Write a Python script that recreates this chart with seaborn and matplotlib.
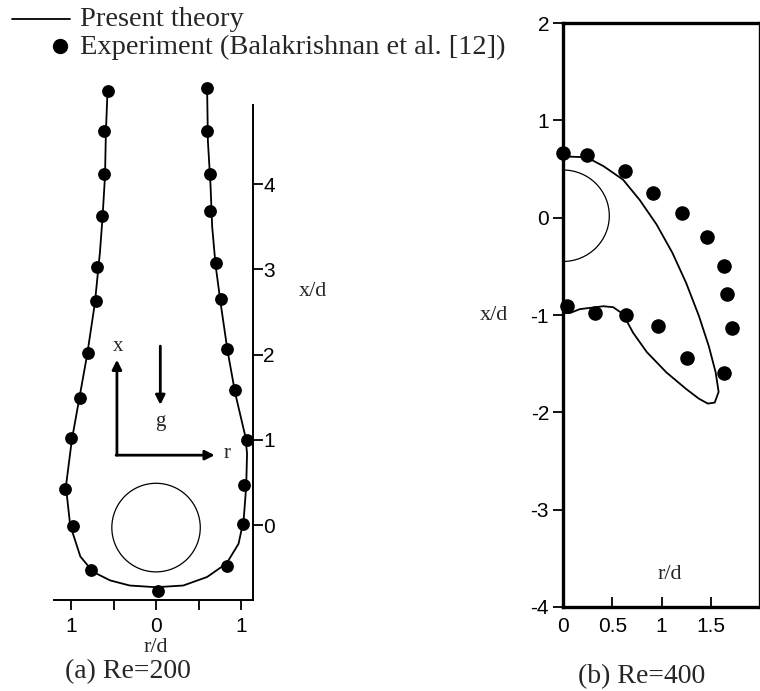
import numpy as np
import matplotlib
matplotlib.use("Agg")
import matplotlib.pyplot as plt
from matplotlib.lines import Line2D
from matplotlib.patches import Circle, Arc
import seaborn as sns

# ---------- data ----------

# (a) Re=200 : theory outline, top-left -> bottom -> top-right
a_theory_r = [-0.57, -0.59, -0.60, -0.63, -0.66, -0.68, -0.72, -0.81, -0.90, -0.99,
              -1.06, -1.01, -0.89, -0.74, -0.54, -0.31, 0.00, 0.32, 0.60, 0.83,
              0.97, 1.03, 1.06, 1.07, 1.05, 0.93, 0.84, 0.76, 0.70, 0.66,
              0.64, 0.61, 0.60]
a_theory_x = [5.12, 4.60, 4.10, 3.60, 3.20, 3.00, 2.60, 2.00, 1.50, 1.00,
              0.45, 0.00, -0.37, -0.55, -0.65, -0.71, -0.73, -0.71, -0.61, -0.45,
              -0.22, 0.06, 0.45, 0.84, 1.04, 1.55, 2.05, 2.60, 3.05, 3.50,
              4.00, 4.50, 5.15]

# (a) experiment
a_exp_r = [-0.57, -0.61, -0.61, -0.63, -0.69, -0.71, -0.80, -0.90, -1.00, -1.07,
           -0.98, -0.76, 0.02, 0.83, 1.02, 1.04, 1.07, 0.93, 0.84, 0.76,
           0.70, 0.64, 0.64, 0.60, 0.60]
a_exp_x = [5.09, 4.62, 4.12, 3.63, 3.03, 2.63, 2.02, 1.49, 1.02, 0.42,
           -0.01, -0.53, -0.77, -0.48, 0.01, 0.47, 1.00, 1.59, 2.07, 2.65,
           3.07, 3.69, 4.12, 4.63, 5.13]

# (b) Re=400 : theory outline, upper edge -> tip -> lower edge
b_theory_r = [0.00, 0.24, 0.41, 0.61, 0.78, 0.95, 1.11, 1.25, 1.38, 1.48,
              1.55, 1.58, 1.54, 1.47, 1.38, 1.25, 1.05, 0.85, 0.71, 0.61,
              0.51, 0.41, 0.17, 0.07, 0.00]
b_theory_x = [0.63, 0.62, 0.53, 0.39, 0.18, -0.07, -0.36, -0.67, -1.01, -1.32,
              -1.59, -1.79, -1.90, -1.91, -1.86, -1.76, -1.59, -1.38, -1.18, -0.99,
              -0.92, -0.91, -0.94, -0.98, -0.98]

# (b) experiment
b_exp_r = [0.00, 0.24, 0.63, 0.91, 1.21, 1.46, 1.63, 1.67, 1.72,
           0.04, 0.32, 0.64, 0.96, 1.26, 1.63]
b_exp_x = [0.66, 0.64, 0.48, 0.25, 0.05, -0.20, -0.50, -0.78, -1.13,
           -0.91, -0.98, -1.00, -1.11, -1.44, -1.60]

# sphere (centre x, radius) per panel
a_sphere = (-0.03, 0.52)
b_sphere = (0.02, 0.47)

a_xticks = [-1, -0.5, 0, 0.5, 1]
a_xticklabels = ["1", "", "0", "", "1"]
a_yticks = [0, 1, 2, 3, 4]
b_xticks = [0, 0.5, 1, 1.5]
b_xticklabels = ["0", "0.5", "1", "1.5"]
b_yticks = [-4, -3, -2, -1, 0, 1, 2]

# ---------- style ----------
sns.set_theme(style="ticks")
plt.rcParams["font.family"] = ["Liberation Serif", "DejaVu Serif"]
plt.rcParams["axes.unicode_minus"] = False

SERIF = "Liberation Serif"
SANS = "Liberation Sans"

W, H = 760, 691
fig = plt.figure(figsize=(W / 100, H / 100), dpi=100)
fig.patch.set_facecolor("white")


def px_axes(x0, y0, x1, y1):
    return fig.add_axes([x0 / W, 1 - y1 / H, (x1 - x0) / W, (y1 - y0) / H])


# ---------- (a) Re=200 ----------
ax1 = px_axes(54, 82, 253, 600)
ax1.set_facecolor("none")
sns.lineplot(x=a_theory_r, y=a_theory_x, sort=False, estimator=None,
             color="black", lw=1.3, ax=ax1)
sns.scatterplot(x=a_exp_r, y=a_exp_x, color="black", s=85, edgecolor="black",
                linewidth=0, ax=ax1, clip_on=False, zorder=5)
ax1.add_patch(Circle((0, a_sphere[0]), a_sphere[1], fill=False, lw=0.9, color="black"))

ax1.set_xlim(-1.2, 1.14)
ax1.set_ylim(-0.88, 5.2)
for s in ["top", "left"]:
    ax1.spines[s].set_visible(False)
ax1.spines["right"].set_bounds(-0.88, 4.93)
for s in ["right", "bottom"]:
    ax1.spines[s].set_linewidth(1.4)
    ax1.spines[s].set_color("black")
ax1.yaxis.tick_right()
ax1.set_xticks(a_xticks)
ax1.set_xticklabels(a_xticklabels)
ax1.set_yticks(a_yticks)
ax1.set_yticklabels([str(v) for v in a_yticks])
ax1.tick_params(axis="x", direction="out", length=7, width=1.3, pad=5,
                labelsize=15, colors="black")
ax1.tick_params(axis="y", direction="out", length=7, width=1.3, pad=0.5,
                labelsize=15, colors="black")
for lab in ax1.get_xticklabels() + ax1.get_yticklabels():
    lab.set_fontfamily(SANS)
ax1.set_xlabel("")
ax1.set_ylabel("")
ax1.text(1.85, 2.74, "x/d", fontsize=16, family=SERIF, va="center", ha="center")
ax1.text(0.0, -1.44, "r/d", fontsize=16, family=SERIF, va="center", ha="center")

# coordinate sketch: x, r and gravity arrows
arrow = dict(arrowstyle="-|>", lw=2.0, color="black", mutation_scale=14,
             shrinkA=0, shrinkB=0)
ax1.annotate("", xy=(-0.46, 1.94), xytext=(-0.46, 0.82), arrowprops=arrow)
ax1.annotate("", xy=(0.69, 0.82), xytext=(-0.47, 0.82), arrowprops=arrow)
ax1.annotate("", xy=(0.05, 1.41), xytext=(0.05, 2.10), arrowprops=arrow)
ax1.text(-0.45, 2.09, "x", fontsize=15, family=SERIF, ha="center", va="center")
ax1.text(0.83, 0.84, "r", fontsize=15, family=SERIF, ha="center", va="center")
ax1.text(0.05, 1.22, "g", fontsize=15, family=SERIF, ha="center", va="center")

# ---------- (b) Re=400 ----------
ax2 = px_axes(563, 23, 760, 607)
ax2.set_facecolor("none")
sns.lineplot(x=b_theory_r, y=b_theory_x, sort=False, estimator=None,
             color="black", lw=1.3, ax=ax2)
sns.scatterplot(x=b_exp_r, y=b_exp_x, color="black", s=110, edgecolor="black",
                linewidth=0, ax=ax2, clip_on=False, zorder=5)
ax2.add_patch(Arc((0, b_sphere[0]), 2 * b_sphere[1], 2 * b_sphere[1],
                  theta1=-90, theta2=90, lw=0.9, color="black"))

ax2.set_xlim(0, 2.0)
ax2.set_ylim(-4, 2)
for s in ax2.spines.values():
    s.set_linewidth(2.4)
    s.set_color("black")
ax2.set_xticks(b_xticks)
ax2.set_xticklabels(b_xticklabels)
ax2.set_yticks(b_yticks)
ax2.set_yticklabels([str(v) for v in b_yticks])
ax2.tick_params(axis="x", direction="in", length=7, width=1.3, pad=7,
                labelsize=15, colors="black")
ax2.tick_params(axis="y", direction="out", length=7, width=1.3, pad=3,
                labelsize=15, colors="black")
for lab in ax2.get_xticklabels() + ax2.get_yticklabels():
    lab.set_fontfamily(SANS)
ax2.set_xlabel("")
ax2.set_ylabel("")
ax2.text(1.08, -3.67, "r/d", fontsize=16, family=SERIF, va="center", ha="center")
ax2.text(-0.70, -1.0, "x/d", fontsize=16, family=SERIF, va="center", ha="center")

# ---------- legend and captions ----------
fig.add_artist(Line2D([12 / W, 70 / W], [1 - 19 / H, 1 - 19 / H],
                      color="black", lw=1.3))
fig.add_artist(Line2D([60 / W], [1 - 46 / H], marker="o", markersize=10,
                      color="black", ls="none"))
fig.text(80 / W, 1 - 20 / H, "Present theory", fontsize=20.5, family=SERIF,
         va="center", ha="left")
fig.text(80 / W, 1 - 47 / H, "Experiment (Balakrishnan et al. [12])", fontsize=20.5,
         family=SERIF, va="center", ha="left")
fig.text(128 / W, 1 - 672 / H, "(a) Re=200", fontsize=20, family=SERIF,
         va="center", ha="center")
fig.text(642 / W, 1 - 677 / H, "(b) Re=400", fontsize=20, family=SERIF,
         va="center", ha="center")

fig.savefig("out.png", dpi=100, facecolor="white")
